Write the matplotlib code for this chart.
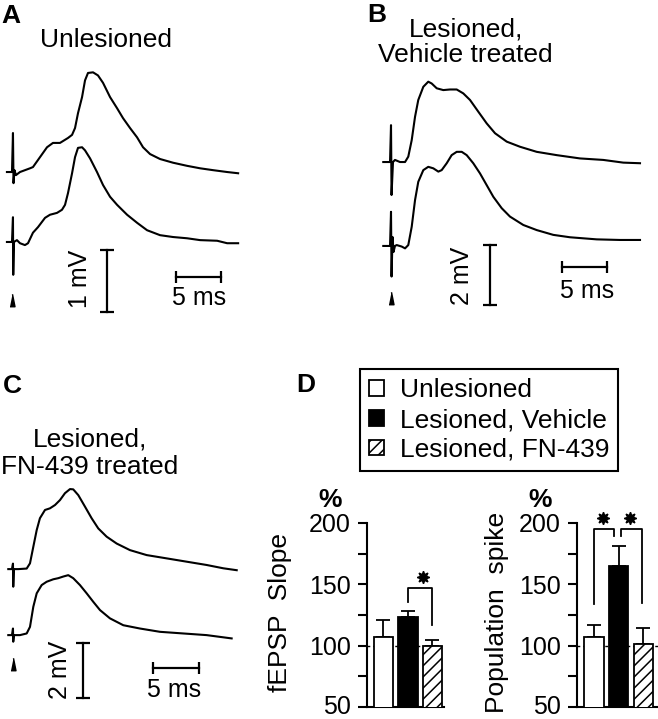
import numpy as np
import matplotlib.pyplot as plt
import matplotlib.transforms as mtransforms

plt.rcParams['font.family'] = ['Liberation Sans', 'DejaVu Sans']
plt.rcParams['hatch.linewidth'] = 1.1

# ---- field potential traces: time (ms) from stimulus, voltage (mV) from baseline ----
a_top_t = [-0.67, -0.11, 0.0, 0.06, 0.17, 0.33, 0.78, 1.89, 2.22, 3.0, 3.78, 4.44, 5.22, 6.11, 6.56,
           6.89, 7.22, 7.67, 8.0, 8.33, 8.89, 9.44, 10.0, 10.78, 11.56, 12.22, 13.0, 13.78, 14.44,
           15.22, 16.33, 17.78, 19.33, 20.78, 22.22, 23.78, 25.0]
a_top_v = [0.0, 0.0, 0.63, -0.18, 0.03, -0.05, 0.0, 0.06, 0.08, 0.24, 0.40, 0.47, 0.47, 0.55, 0.60,
           0.71, 0.95, 1.21, 1.48, 1.60, 1.61, 1.56, 1.44, 1.21, 1.03, 0.87, 0.71, 0.56, 0.40,
           0.29, 0.21, 0.15, 0.10, 0.06, 0.03, 0.0, -0.02]
a_bot_t = [-0.67, -0.11, 0.0, 0.03, 0.11, 0.44, 0.78, 1.33, 1.67, 2.22, 2.78, 3.56, 4.11, 4.89, 5.44,
           5.78, 6.11, 6.56, 6.89, 7.22, 7.67, 8.0, 8.56, 9.33, 10.0, 10.78, 11.56, 12.67, 13.78,
           14.89, 16.33, 17.78, 19.33, 20.78, 22.67, 23.78, 25.0]
a_bot_v = [0.0, 0.0, 0.40, -0.53, 0.0, 0.03, -0.02, -0.05, -0.02, 0.15, 0.24, 0.39, 0.44, 0.47, 0.52,
           0.60, 0.79, 1.11, 1.37, 1.52, 1.53, 1.48, 1.35, 1.13, 0.92, 0.73, 0.60, 0.44, 0.31,
           0.19, 0.11, 0.08, 0.06, 0.03, 0.02, -0.02, -0.02]

b_top_t = [-0.86, -0.11, 0.0, 0.06, 0.22, 0.44, 1.0, 1.56, 1.92, 2.3, 2.67, 3.03, 3.59, 4.14, 4.52,
           5.08, 5.81, 6.56, 7.3, 8.03, 8.78, 9.7, 10.63, 11.56, 12.86, 14.33, 16.19, 18.41, 21.0,
           23.59, 25.81, 27.67]
b_top_v = [0.0, 0.0, 1.23, -1.1, 0.0, 0.07, 0.0, 0.0, 0.18, 0.73, 1.51, 2.07, 2.51, 2.68, 2.62,
           2.46, 2.40, 2.42, 2.42, 2.29, 2.07, 1.68, 1.29, 0.96, 0.68, 0.51, 0.34, 0.23, 0.12,
           0.07, -0.02, -0.04]
b_bot_t = [-0.86, -0.11, 0.0, 0.06, 0.17, 0.28, 0.44, 0.63, 1.19, 1.56, 1.92, 2.3, 2.67, 3.03, 3.59,
           4.14, 4.7, 5.26, 5.63, 6.19, 6.74, 7.3, 7.86, 8.41, 9.14, 9.89, 10.63, 11.37, 12.3,
           13.22, 14.7, 16.19, 18.03, 19.89, 22.86, 25.44, 27.67]
b_bot_v = [0.0, 0.0, 1.14, -1.02, 0.3, -0.2, 0.0, 0.03, -0.02, -0.08, 0.03, 0.64, 1.53, 2.14, 2.53,
           2.64, 2.59, 2.48, 2.53, 2.76, 3.03, 3.14, 3.14, 3.03, 2.76, 2.42, 2.03, 1.64, 1.26,
           0.98, 0.70, 0.53, 0.37, 0.29, 0.22, 0.20, 0.20]

c_top_t = [-0.51, -0.11, 0.0, 0.03, 0.11, 0.58, 1.49, 1.85, 2.21, 2.58, 2.93, 3.48, 4.02, 4.57, 5.11,
           5.65, 6.2, 6.55, 7.1, 7.83, 8.55, 9.27, 10.18, 11.27, 12.72, 14.53, 16.71, 18.88, 21.05,
           22.86, 24.32]
c_top_v = [0.0, 0.0, 0.2, -0.64, 0.0, 0.0, 0.02, 0.21, 0.81, 1.42, 1.85, 2.15, 2.21, 2.33, 2.51,
           2.76, 2.91, 2.90, 2.69, 2.27, 1.85, 1.48, 1.18, 0.93, 0.69, 0.51, 0.39, 0.27, 0.15,
           0.03, -0.04]
c_bot_t = [-0.51, -0.11, 0.0, 0.03, 0.11, 0.76, 1.49, 1.85, 2.21, 2.58, 3.12, 3.66, 4.38, 4.92, 5.47,
           6.01, 6.55, 7.28, 8.01, 8.73, 9.46, 10.54, 11.99, 13.8, 15.98, 18.51, 21.05, 23.77]
c_bot_v = [0.0, 0.0, 0.24, -0.24, 0.0, 0.0, 0.06, 0.3, 1.03, 1.52, 1.82, 1.94, 2.03, 2.07, 2.13,
           2.18, 2.07, 1.82, 1.52, 1.21, 0.91, 0.61, 0.36, 0.24, 0.12, 0.06, 0.0, -0.12]

# ---- panel D ----
groups = ['Unlesioned', 'Lesioned, Vehicle', 'Lesioned, FN-439']
slope_mean = [107, 123, 100]
slope_sem = [14, 5, 5]
spike_mean = [107, 165, 101]
spike_sem = [10, 16, 13]
# significance brackets: (x points, y points) and star positions
slope_brackets = [([1.0, 1.0, 1.98, 1.98], [136, 147, 147, 117])]
slope_stars = [(1.6, 156)]
spike_brackets = [([0.0, 0.0, 0.81, 0.81], [134, 195, 195, 189]),
                  ([1.09, 1.09, 1.95, 1.95], [189, 195, 195, 135])]
spike_stars = [(0.35, 204), (1.46, 204)]

W, H = 658, 719
fig = plt.figure(figsize=(W / 100, H / 100), dpi=100)


def box(x0, y0, x1, y1):
    return [x0 / W, 1 - y1 / H, (x1 - x0) / W, (y1 - y0) / H]


def fx(x):
    return x / W


def fy(y):
    return 1 - y / H


arrow = [(-0.4, -1), (0.4, -1), (0, 1)]


def trace_panel(rect, xlim, ylim, traces, offset, vbar, hbar, mv_lab, mv_pos, ms_pos, arr):
    ax = fig.add_axes(rect)
    ax.set_xlim(*xlim)
    ax.set_ylim(*ylim)
    ax.axis('off')
    (t1, v1), (t2, v2) = traces
    ax.plot(t1, np.array(v1) + offset, color='k', lw=1.5)
    ax.plot(t2, v2, color='k', lw=1.5)
    # scale bars
    tv, v0 = vbar
    ax.plot([tv, tv], [v0, v0 + (2 if mv_lab.startswith('2') else 1)], color='k', lw=1.6,
            marker='_', ms=10, mew=1.6)
    th, vh = hbar
    ax.plot([th, th + 5], [vh, vh], color='k', lw=1.6, marker='|', ms=8, mew=1.6)
    ax.text(mv_pos[0], mv_pos[1], mv_lab, rotation=90, ha='center', va='center', fontsize=18)
    ax.text(ms_pos[0], ms_pos[1], '5 ms', ha='center', va='baseline', fontsize=18)
    ax.plot([arr[0]], [arr[1]], marker=arrow, ms=9, color='k')
    return ax


trace_panel(box(0, 55, 330, 320), (-1.44, 35.2), (-1.26, 3.02),
            [(a_top_t, a_top_v), (a_bot_t, a_bot_v)], 1.13,
            (10.44, -1.13), (18.1, -0.56), '1 mV', (7.44, -0.59), (20.7, -1.02), (-0.1, -0.94))
trace_panel(box(330, 70, 658, 320), (-6.78, 29.67), (-2.47, 5.87),
            [(b_top_t, b_top_v), (b_bot_t, b_bot_v)], 2.8,
            (11.0, -1.97), (19.0, -0.7), '2 mV', (7.9, -1.0), (21.8, -1.73), (0.0, -1.73))
trace_panel(box(0, 480, 300, 719), (-1.41, 31.2), (-3.05, 5.64),
            [(c_top_t, c_top_v), (c_bot_t, c_bot_v)], 2.4,
            (7.61, -2.29), (15.2, -1.2), '2 mV', (5.1, -1.27), (17.55, -2.25), (0.0, -1.05))

# panel letters and titles
for lab, x, y in [('A', 1, 23), ('B', 367, 22), ('C', 3, 393), ('D', 296, 392)]:
    fig.text(fx(x), fy(y), lab, fontsize=19, fontweight='bold', ha='left', va='baseline')
fig.text(fx(106), fy(47), 'Unlesioned', fontsize=19, ha='center', va='baseline')
fig.text(fx(466), fy(36), 'Lesioned,', fontsize=19, ha='center', va='baseline')
fig.text(fx(465), fy(62), 'Vehicle treated', fontsize=19, ha='center', va='baseline')
fig.text(fx(90), fy(447), 'Lesioned,', fontsize=19, ha='center', va='baseline')
fig.text(fx(90), fy(474), 'FN-439 treated', fontsize=19, ha='center', va='baseline')

fills = ['white', 'black', 'white']


def bar_panel(rect, xlim, means, sems, brackets, stars):
    ax = fig.add_axes(rect)
    x = np.arange(3)
    bars = ax.bar(x, means, width=0.78, color=fills, edgecolor='black', linewidth=1.3, zorder=3)
    bars[2].set_hatch('///')
    ax.errorbar(x, means, yerr=[np.zeros(3), sems], fmt='none', ecolor='black',
                elinewidth=1.3, capsize=5, capthick=1.3, zorder=2)
    ax.axhline(100, color='k', lw=1, ls=(0, (2, 2)), zorder=1)
    for bx, by in brackets:
        ax.plot(bx, by, color='k', lw=1.3, clip_on=False)
    for sx, sy in stars:
        ax.plot([sx], [sy], marker=(8, 1, 0), ms=9, color='k', clip_on=False)
    ax.set_xlim(*xlim)
    ax.set_ylim(50, 200)
    ax.set_xticks([])
    ax.set_yticks([50, 100, 150, 200])
    ax.set_yticks([75, 125, 175], minor=True)
    ax.tick_params(which='both', direction='out', length=6.5, width=1.5, labelsize=18, pad=5)
    for s in ['top', 'right']:
        ax.spines[s].set_visible(False)
    for s in ['left', 'bottom']:
        ax.spines[s].set_linewidth(1.5)
    # lift the bottom label a little so it stays inside the figure
    lab50 = ax.get_yticklabels()[0]
    lab50.set_transform(lab50.get_transform() +
                        mtransforms.ScaledTranslation(0, 3 / 100, fig.dpi_scale_trans))
    return ax, bars


ax1, bars = bar_panel(box(367, 523, 444, 707), (-0.67, 2.47), slope_mean, slope_sem,
                      slope_brackets, slope_stars)
ax2, _ = bar_panel(box(577, 523, 658, 707), (-0.69, 2.6), spike_mean, spike_sem,
                   spike_brackets, spike_stars)

fig.text(fx(280), fy(613), 'fEPSP  Slope', rotation=90, fontsize=19, ha='center', va='center')
fig.text(fx(497), fy(612), 'Population  spike', rotation=90, fontsize=19, ha='center', va='center')
fig.text(fx(330), fy(507), '%', fontsize=19, fontweight='bold', ha='center', va='baseline')
fig.text(fx(540), fy(507), '%', fontsize=19, fontweight='bold', ha='center', va='baseline')

leg = fig.legend(list(bars), groups, loc='upper left', mode='expand',
                 bbox_to_anchor=(fx(360), fy(466), (618 - 360) / W, (466 - 369) / H),
                 frameon=True, fancybox=False, edgecolor='black', framealpha=1, fontsize=19,
                 handlelength=0.55, handleheight=0.55, handletextpad=0.6, borderpad=0.35,
                 labelspacing=0.22, borderaxespad=0)
leg.get_frame().set_linewidth(1.5)

fig.savefig('out.png', dpi=100)
